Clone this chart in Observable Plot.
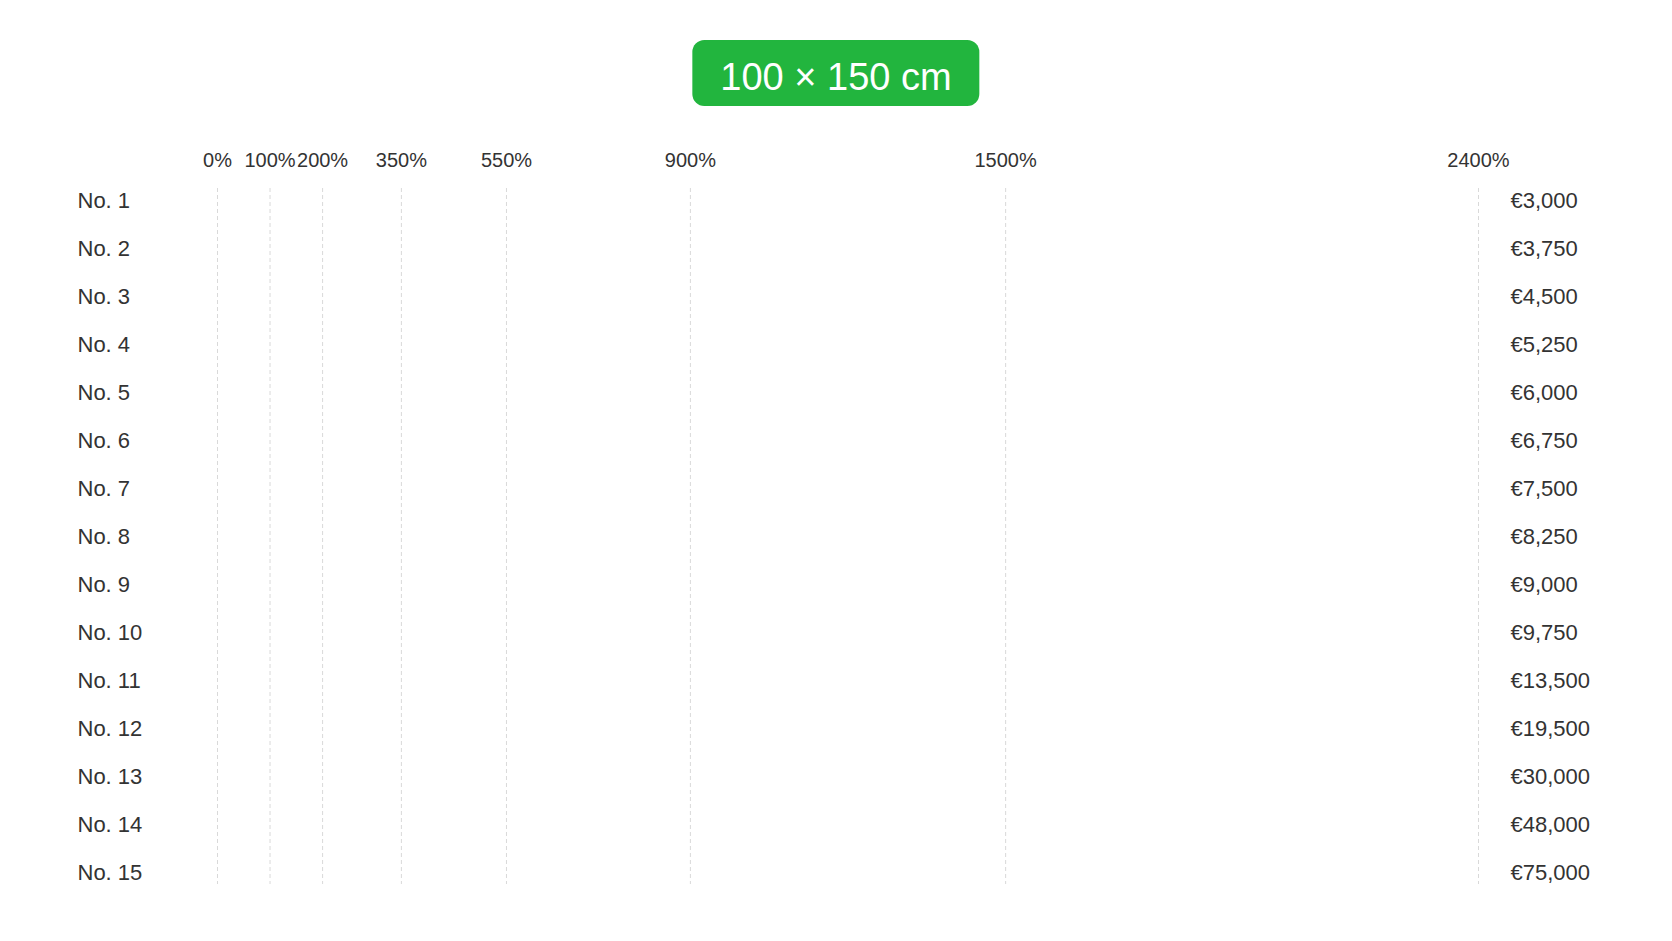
<!DOCTYPE html>
<html>
<head>
<meta charset="utf-8">
<script src="https://cdn.jsdelivr.net/npm/d3@7"></script>
<script src="https://cdn.jsdelivr.net/npm/@observablehq/plot@0.6"></script>
<style>
  html, body { margin: 0; padding: 0; background: #fff; }
  body { width: 1672px; height: 941px; overflow: hidden; font-family: "Liberation Sans", Arial, sans-serif; }
  #head { height: 120px; position: relative; }
  #badge {
    position: absolute; left: 50%; top: 40px; transform: translateX(-50%);
    background: #22b53e; color: #fff; border-radius: 12px;
    height: 66px; line-height: 74px; padding: 0 28px;
    font-size: 38px; white-space: nowrap;
  }
  #chart svg { display: block; }
</style>
</head>
<body>
<div id="head"><div id="badge">100 × 150 cm</div></div>
<div id="chart"></div>
<script>
const labels = ["No. 1","No. 2","No. 3","No. 4","No. 5","No. 6","No. 7","No. 8","No. 9","No. 10","No. 11","No. 12","No. 13","No. 14","No. 15"];
const prices = [3000, 3750, 4500, 5250, 6000, 6750, 7500, 8250, 9000, 9750, 13500, 19500, 30000, 48000, 75000];
const tickValues = [0, 100, 200, 350, 550, 900, 1500, 2400];

const rows = labels.map((label, i) => ({label, price: prices[i]}));
const fmt = d3.format(",");

const chart = Plot.plot({
  width: 1672,
  height: 821,
  marginLeft: 217,
  marginRight: 194,
  marginTop: 56,
  marginBottom: 45,
  style: {fontFamily: "'Liberation Sans', Arial, sans-serif", color: "#333", background: "#fff"},
  x: {domain: [0, 2400], axis: null},
  y: {type: "band", domain: labels, padding: 0, axis: null},
  marks: [
    Plot.ruleX(tickValues, {stroke: "#d9d9d9", strokeWidth: 1, strokeDasharray: "4,3", insetTop: 12, insetBottom: 12}),
    Plot.text(tickValues, {x: d => d, text: d => d + "%", frameAnchor: "top", lineAnchor: "middle", dy: -16, fontSize: 20, fill: "#333"}),
    Plot.text(rows, {y: "label", text: "label", frameAnchor: "left", textAnchor: "start", dx: -140, fontSize: 22, fill: "#333"}),
    Plot.text(rows, {y: "label", text: d => "€" + fmt(d.price), frameAnchor: "right", textAnchor: "start", dx: 32, fontSize: 22, fill: "#333"})
  ]
});
document.getElementById("chart").appendChild(chart);
</script>
</body>
</html>
